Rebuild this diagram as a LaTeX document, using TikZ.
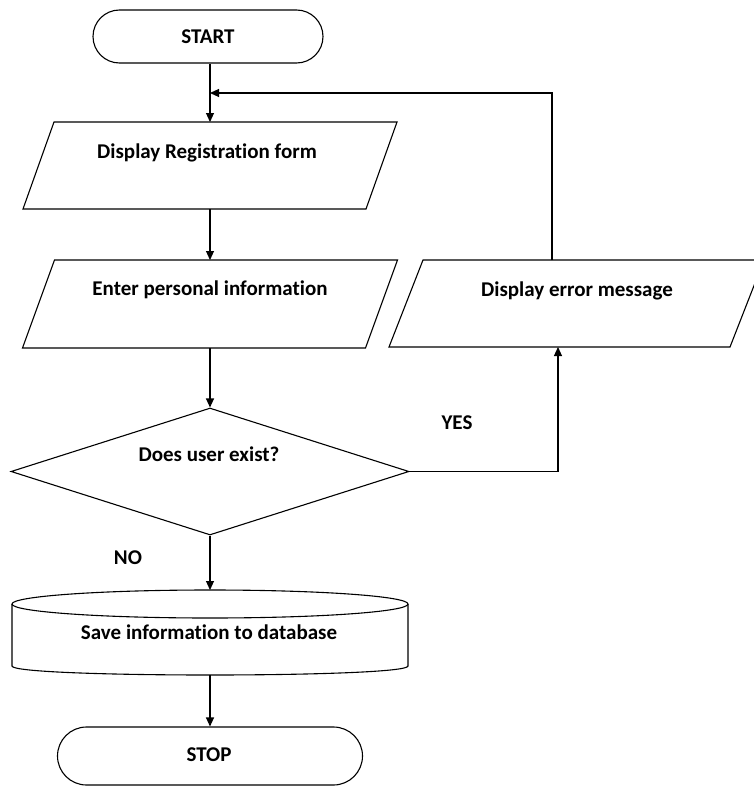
\documentclass[tikz,border=0pt]{standalone}
\usepackage{fontspec}
\setmainfont{Carlito}[Ligatures=NoCommon]
\usetikzlibrary{arrows.meta,shapes.geometric,shapes.misc,calc}

% parallelogram drawn inside an invisible frame node: #1 = frame, #2 = slant
\newcommand\slantbox[2]{%
  \draw ($(#1.north west)+(#2,0)$) -- (#1.north east)
    -- ($(#1.south east)-(#2,0)$) -- (#1.south west) -- cycle;}

\begin{document}
\begin{tikzpicture}[x=1pt,y=-1pt,line width=1.1pt,
  txt/.style={font=\bfseries\fontsize{21}{25}\selectfont,inner sep=0pt,
    text height=13.4pt,text depth=0pt},
  frame/.style={inner sep=0pt,outer sep=0pt},
  term/.style={rounded rectangle,draw,inner sep=0pt},
  arr/.style={-{Triangle[length=9pt,width=8pt]}}]
\useasboundingbox (0,0) rectangle (754,787);

% terminals
\node[term,minimum width=230pt,minimum height=53pt] (start) at (208,36.5) {};
\node[txt] (startT) at (208,37) {START};
\node[term,minimum width=305pt,minimum height=58pt] (stop) at (210,756) {};
\node[txt] (stopT) at (209,755) {STOP};

% input / output boxes
\node[frame,minimum width=374pt,minimum height=87pt] (reg) at (210,165.5) {};
\slantbox{reg}{31}
\node[txt] (regT) at (207,152) {Display Registration form};

\node[frame,minimum width=375pt,minimum height=88pt] (inf) at (210,304) {};
\slantbox{inf}{32}
\node[txt] (infT) at (210,289) {Enter personal information};

\node[frame,minimum width=375pt,minimum height=87pt] (err) at (576.5,303.5) {};
\slantbox{err}{34}
\node[txt] (errT) at (577,290) {Display error message};

% decision
\node[diamond,draw,inner sep=0pt,minimum width=398pt,minimum height=127pt] (dec) at (210,471.5) {};
\node[txt] (decT) at (209,455) {Does user exist?};

% database (cylinder)
\node[frame,minimum width=396pt,minimum height=85pt] (db) at (210,632.5) {};
\draw ($(db.north)+(0,14)$) ellipse [x radius=198pt,y radius=14pt];
\draw ($(db.north west)+(0,14)$) -- ($(db.south west)+(0,-9)$)
  .. controls ($(db.south west)+(0,3)$) and ($(db.south east)+(0,3)$)
  .. ($(db.south east)+(0,-9)$) -- ($(db.north east)+(0,14)$);
\node[txt] (dbT) at (209,633) {Save information to database};

% branch labels
\node[txt] (yes) at (457,423) {YES};
\node[txt] (no) at (128,558) {NO};

% connectors
\coordinate (loop) at (552,93);
\draw[arr] (start.south -| reg.north) -- (reg.north);
\draw[arr] (reg.south) -- (inf.north);
\draw[arr] (inf.south) -- (dec.north);
\draw[arr] (dec.south) -- (db.north);
\draw[arr] (db.south) -- (stop.north);
\draw[arr] (dec.east) -| ($(err.south west)+(169,0)$);
\draw[arr] (err.north -| loop) -- (loop) -- (loop -| reg.north);
\end{tikzpicture}
\end{document}
